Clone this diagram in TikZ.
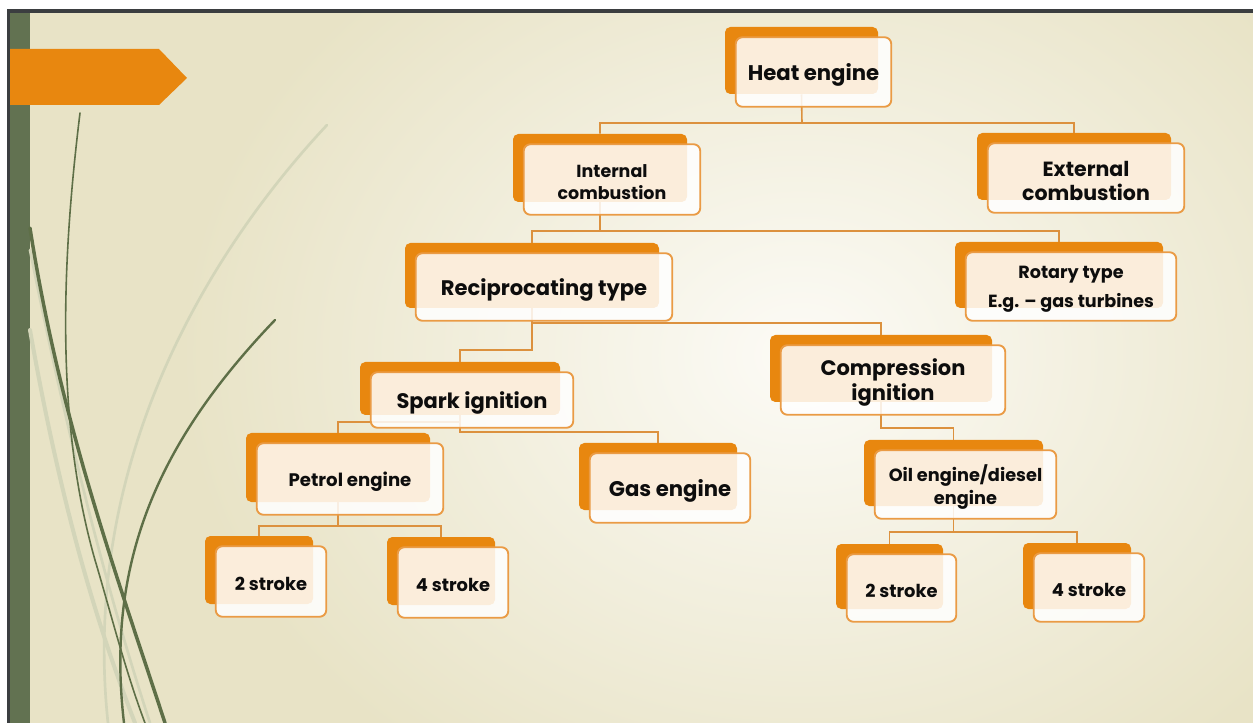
\documentclass[tikz,border=0pt]{standalone}
\usepackage{fontspec}
\setmainfont{Poppins}
\usetikzlibrary{calc}
\definecolor{bgin}{HTML}{FCFBF6}
\definecolor{bgout}{HTML}{E8E3C6}
\definecolor{stripgreen}{HTML}{627251}
\definecolor{frameline}{HTML}{3B3E40}
\definecolor{bannerorange}{HTML}{E8870F}
\definecolor{boxorange}{HTML}{E8870F}
\definecolor{boxedge}{HTML}{EA9B45}
\definecolor{connorange}{HTML}{DC913E}
\definecolor{grassdark}{HTML}{5E6F47}
\definecolor{grasslight}{HTML}{D3D5B9}
\tikzset{
  backbox/.style={fill=boxorange, draw=none, rounded corners=4pt, inner sep=0pt},
  frontbox/.style={fill=white, fill opacity=0.85, draw=boxedge,
    line width=1.4pt, rounded corners=5pt, inner sep=0pt},
  boxtext/.style={inner sep=0pt, align=center, text=black!95},
  conn/.style={draw=connorange, line width=1.2pt},
  grassd/.style={draw=grassdark, line cap=round},
  grassl/.style={draw=grasslight, line cap=round},
}
% back box: name, cx, cy, w, h
\newcommand\engback[5]{%
  \node[backbox, minimum width=#4*0.75pt, minimum height=#5*0.75pt] (#1) at (#2,#3) {};
}
% front box: back name, w, h, font size, baselineskip, text
\newcommand\engfront[6]{%
  \node[frontbox, minimum width=#2*0.75pt+2.5*0.75pt, minimum height=#3*0.75pt+2.5*0.75pt]
    (#1f) at ([shift={(12,11.5)}]#1.center) {};
  \node[boxtext, font=\fontsize{#4}{#5}\selectfont\bfseries] (#1t) at ([shift={(0,2.5)}]#1f.center) {#6};
}
\begin{document}
\begin{tikzpicture}[x=0.75pt,y=-0.75pt]
\useasboundingbox (0,0) rectangle (1253,723);
\fill[white] (0,0) rectangle (1253,723);
\begin{scope}
  \clip (10,13) rectangle (1253,723);
  \fill[bgout] (10,13) rectangle (1253,723);
  \shade[inner color=bgin, outer color=bgout] (180,-150) rectangle (1420,860);
\end{scope}
\fill[frameline] (7,9) rectangle (1253,13);
\fill[frameline] (7,9) rectangle (10,723);
\fill[stripgreen] (10,13) rectangle (30,723);
% grass curves
\draw[grassl, line width=2pt] (327,125) .. controls (210,250) and (80,460) .. (108,723);
\draw[grassl, line width=3pt] (30,330) .. controls (60,500) and (95,620) .. (135,723);
\draw[grassl, line width=2pt] (30,250) .. controls (70,450) and (110,600) .. (150,723);
\draw[grassd, line width=1.2pt] (80,113) .. controls (62,260) and (55,420) .. (95,560) .. controls (110,610) and (125,670) .. (145,723);
\draw[grassd, line width=2.6pt] (30,228) .. controls (60,420) and (115,570) .. (165,723);
\draw[grassd, line width=1.8pt] (275,320) .. controls (160,440) and (105,560) .. (124,723);
% banner
\fill[bannerorange] (10,49) -- (159,49) -- (187,78) -- (159,105) -- (10,105) -- cycle;

% back boxes
\engback{heat}{801.5}{60.5}{153}{67}
\engback{int}{600}{168}{174}{68}
\engback{ext}{1074}{166.5}{194}{67}
\engback{rec}{532}{275.5}{254}{65}
\engback{rot}{1059}{275}{208}{66}
\engback{spark}{460}{388.5}{200}{53}
\engback{comp}{881}{368.5}{222}{67}
\engback{petrol}{338}{467.5}{184}{69}
\engback{gas}{658}{476.5}{158}{67}
\engback{oil}{953.5}{473}{179}{66}
\engback{ptwo}{259}{570}{108}{68}
\engback{pfour}{441}{571}{108}{68}
\engback{dtwo}{889.5}{576.5}{107}{65}
\engback{dfour}{1077}{576}{108}{66}

% junctions
\coordinate (j1) at (802,123);
\coordinate (j2) at (600,231);
\coordinate (j3a) at (532,350);
\coordinate (j3b) at (532,323);
\coordinate (j4a) at (460,432);
\coordinate (j4b) at (460,422);
\coordinate (j5) at (881,428);
\coordinate (j6) at (338,526);
\coordinate (j7) at (953.5,532);

% connectors
\draw[conn] (heat.south) -- (j1) -| (int.north);
\draw[conn] (j1) -| (ext.north);
\draw[conn] (int.south) -- (j2) -| (rec.north);
\draw[conn] (j2) -| (rot.north);
\draw[conn] (rec.south) -- (j3a) -| (spark.north);
\draw[conn] (j3b) -| (comp.north);
\draw[conn] (spark.south) -- (j4a) -| (gas.north);
\draw[conn] (j4b) -| (petrol.north);
\draw[conn] (comp.south) -- (j5) -| (oil.north);
\draw[conn] (petrol.south) -- (j6) -| (ptwo.north);
\draw[conn] (j6) -| (pfour.north);
\draw[conn] (oil.south) -- (j7) -| (dtwo.north);
\draw[conn] (j7) -| (dfour.north);

% front boxes
\engfront{heat}{153}{67}{15.9pt}{20pt}{Heat engine}
\engfront{int}{174}{68}{13.1pt}{16.5pt}{Internal\\combustion}
\engfront{ext}{194}{67}{15.4pt}{18pt}{External\\combustion}
\engfront{rec}{254}{65}{15.8pt}{20pt}{Reciprocating type}
\engfront{rot}{208}{66}{13.2pt}{21.5pt}{Rotary type\\E.g. – gas turbines}
\engfront{spark}{200}{53}{15.75pt}{20pt}{Spark ignition}
\engfront{comp}{222}{67}{15.75pt}{18.8pt}{Compression\\ignition}
\engfront{petrol}{184}{69}{13.6pt}{16pt}{Petrol engine}
\engfront{gas}{158}{67}{15.9pt}{20pt}{Gas engine}
\engfront{oil}{179}{66}{13.3pt}{17pt}{Oil engine/diesel\\engine}
\engfront{ptwo}{108}{68}{13.4pt}{16pt}{2 stroke}
\engfront{pfour}{108}{68}{13.4pt}{16pt}{4 stroke}
\engfront{dtwo}{107}{65}{13.4pt}{16pt}{2 stroke}
\engfront{dfour}{108}{66}{13.4pt}{16pt}{4 stroke}
\end{tikzpicture}
\end{document}
